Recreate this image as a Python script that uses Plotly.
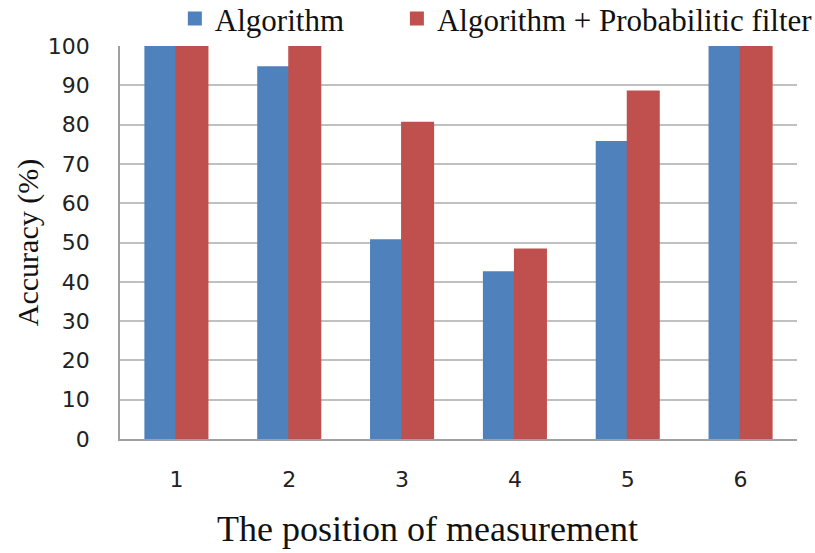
import plotly.graph_objects as go

positions = ["1", "2", "3", "4", "5", "6"]
algorithm = [100, 94.6, 50.6, 42.4, 75.6, 100]
algorithm_filter = [100, 100, 80.5, 48.2, 88.4, 100]
y_ticks = [0, 10, 20, 30, 40, 50, 60, 70, 80, 90, 100]

BLUE = "#4F81BD"
RED = "#C0504D"
SERIF = "Liberation Serif"

fig = go.Figure()
fig.add_trace(go.Bar(x=positions, y=algorithm, name="Algorithm",
                     marker=dict(color=BLUE, line=dict(color=BLUE, width=2)),
                     legend="legend", showlegend=True))
fig.add_trace(go.Bar(x=positions, y=algorithm_filter,
                     name="Algorithm + Probabilitic filter",
                     marker=dict(color=RED, line=dict(color=RED, width=2)),
                     legend="legend2", showlegend=True))

legend_style = dict(orientation="h", y=1.138, yanchor="top", xanchor="left",
                    font=dict(family=SERIF, size=31, color="#111"),
                    itemwidth=30, bgcolor="rgba(0,0,0,0)")

fig.update_layout(
    width=815, height=553,
    showlegend=True,
    margin=dict(l=120, r=18, t=46, b=114, autoexpand=False),
    paper_bgcolor="white", plot_bgcolor="white",
    barmode="group", bargap=0.45, bargroupgap=0,
    legend=dict(x=0.081, **legend_style),
    legend2=dict(x=0.409, **legend_style),
    xaxis=dict(
        showgrid=False, showline=True, linecolor="#a0a0a0", linewidth=1.5,
        ticks="", tickfont=dict(family="DejaVu Sans", size=22, color="#222"),
        ticklabelstandoff=20,
    ),
    yaxis=dict(
        range=[0, 100], tickvals=y_ticks, showgrid=True, gridcolor="#c0c0c0",
        gridwidth=1.5, showline=True, linecolor="#a0a0a0", linewidth=1.5,
        ticks="", tickfont=dict(family="DejaVu Sans", size=22, color="#222"),
        ticklabelstandoff=24, zeroline=False,
        title=dict(text="Accuracy (%)",
                   font=dict(family=SERIF, size=30, color="#111"),
                   standoff=0),
    ),
)

# x-axis title placed as a paper annotation, sitting slightly left of centre
fig.add_annotation(text="The position of measurement", xref="paper", yref="paper",
                   x=0.454, y=-0.172, xanchor="center", yanchor="top",
                   showarrow=False,
                   font=dict(family=SERIF, size=36, color="#111"))

fig.write_html("out.html")
